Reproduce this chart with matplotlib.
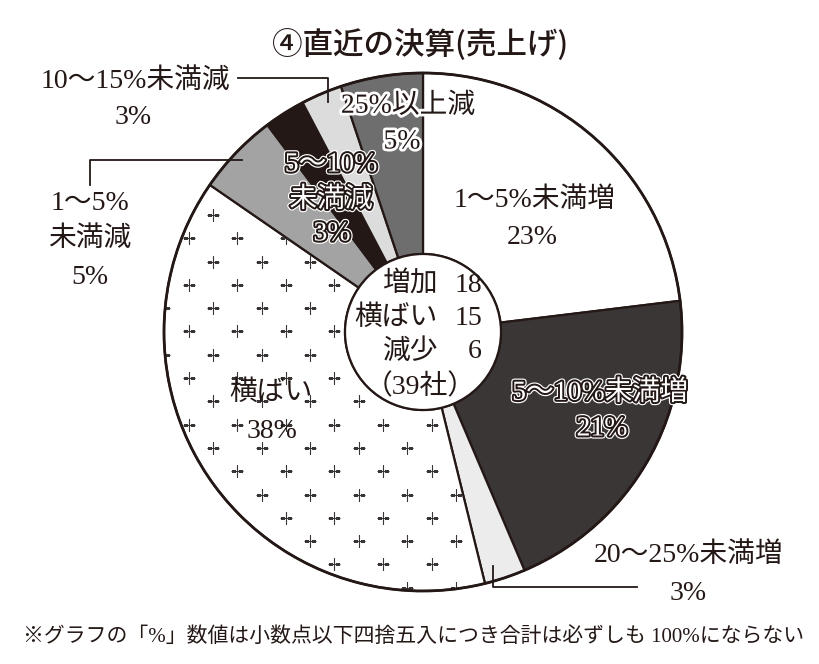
import numpy as np
import matplotlib
matplotlib.use("Agg")
import matplotlib.pyplot as plt
from matplotlib import patheffects as pe
from matplotlib.patches import Circle

plt.rcParams['font.family'] = ['Liberation Serif', 'Noto Sans CJK JP']

# 回答企業数 (39社) - 時計回り, 12時の位置から
categories = ['1〜5%未満増', '5〜10%未満増', '20〜25%未満増', '横ばい',
              '1〜5%未満減', '10〜15%未満減', '5〜10%未満減', '25%以上減']
counts = [9, 8, 1, 15, 2, 1, 1, 2]
pct_labels = ['23%', '21%', '3%', '38%', '5%', '3%', '3%', '5%']
colors = ['#ffffff', '#3b3636', '#ececec', '#ffffff',
          '#a3a3a3', '#231815', '#dcdcdc', '#6f6e6e']

summary_names = ['増加', '横ばい', '減少']
summary_values = [18, 15, 6]
total_label = '（39社）'

ink = '#231815'

fig = plt.figure(figsize=(8.2, 6.64), dpi=100)
ax = fig.add_axes([0, 0, 1, 1])

cx, cy, R, r_in = 423, 332, 259, 78

wedges, _ = ax.pie(counts, colors=colors, startangle=-90, counterclock=True,
                   radius=R, center=(cx, cy), frame=True,
                   wedgeprops=dict(width=R - r_in, edgecolor=ink, linewidth=1.6))
ax.set_xlim(0, 820)
ax.set_ylim(664, 0)
ax.set_aspect('equal')
ax.axis('off')

# 横ばい の「+」模様
gx = np.arange(140, 480, 24.3)
gy = np.arange(145, 600, 23.3)
px, py = [], []
for j, yy in enumerate(gy):
    for i, xx in enumerate(gx):
        if (i + j) % 2 == 0:
            px.append(xx)
            py.append(yy)
sc = ax.scatter(px, py, marker='+', s=75, linewidths=0.8, color='#3a3535', zorder=3)
sc.set_clip_path(wedges[3])

ax.add_patch(Circle((cx, cy), R, fill=False, ec=ink, lw=2.0, zorder=4))
ax.add_patch(Circle((cx, cy), r_in, fc='white', ec=ink, lw=1.6, zorder=4))

fs = 20
dark_on_light = [pe.withStroke(linewidth=4, foreground='white')]
white_on_dark = [pe.Stroke(linewidth=4.5, foreground='white'),
                 pe.Stroke(linewidth=2.8, foreground=ink), pe.Normal()]


def label(x, y, s, kind='plain', size=fs):
    if kind == 'white':
        ax.text(x, y, s, ha='center', va='center', fontsize=size, color='white',
                path_effects=white_on_dark, zorder=6)
    elif kind == 'halo':
        ax.text(x, y, s, ha='center', va='center', fontsize=size, color=ink,
                path_effects=dark_on_light, zorder=6)
    else:
        ax.text(x, y, s, ha='center', va='center', fontsize=size, color=ink, zorder=6)


ax.text(420, 45, '④直近の決算(売上げ)', ha='center', va='center', fontsize=22,
        family=['Noto Sans CJK JP'], weight='medium', color=ink)

# 1〜5%未満増
label(535, 200, categories[0])
label(532, 238, pct_labels[0])
# 5〜10%未満増
label(600, 393, categories[1], 'white')
label(602, 429, pct_labels[1], 'white')
# 20〜25%未満増
label(689, 555, categories[2])
label(688, 593, pct_labels[2])
ax.plot([493, 493, 637], [566, 587, 587], color=ink, lw=1.3, zorder=5)
# 横ばい
label(271, 393, categories[3])
label(272, 432, pct_labels[3])
# 1〜5%未満減
label(90, 203, '1〜5%')
label(90, 239, '未満減')
label(90, 277, pct_labels[4])
ax.plot([90, 90, 242], [185, 160, 160], color=ink, lw=1.3, zorder=5)
# 10〜15%未満減
label(135, 81, categories[5])
label(133, 118, pct_labels[5])
ax.plot([238, 328, 328], [78, 78, 102], color=ink, lw=1.3, zorder=5)
# 5〜10%未満減
label(331, 165, '5〜10%', 'white')
label(331, 200, '未満減', 'white')
label(332, 234, pct_labels[6], 'white')
# 25%以上減
label(408, 106, categories[7], 'halo')
label(402, 142, pct_labels[7], 'halo')

# 中央の集計
for k, (name, val) in enumerate(zip(summary_names, summary_values)):
    yy = 285 + 33.5 * k
    ax.text(438, yy, name, ha='right', va='center', fontsize=fs, color=ink, zorder=6)
    ax.text(482, yy, str(val), ha='right', va='center', fontsize=fs, color=ink, zorder=6)
ax.text(420, 387, total_label, ha='center', va='center', fontsize=fs, color=ink, zorder=6)

ax.text(414, 637, '※グラフの「%」数値は小数点以下四捨五入につき合計は必ずしも 100%にならない',
        ha='center', va='center', fontsize=15, color=ink)

fig.savefig('out.png', dpi=100, facecolor='white')
